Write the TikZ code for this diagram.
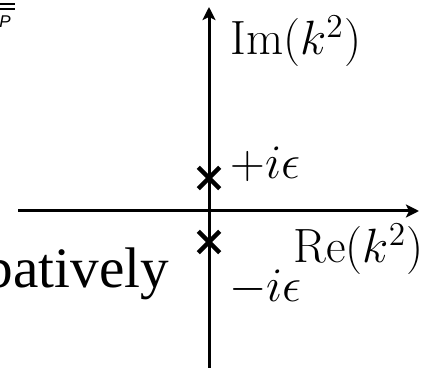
\documentclass[tikz,border=0pt]{standalone}
\usepackage{graphicx}
\usepackage{fontspec}
\newfontfamily\wordfont{Liberation Serif}
\newfontfamily\sansletter{Liberation Sans}
\usetikzlibrary{arrows.meta,shapes.misc}
\newcommand{\planelbl}[1]{\scalebox{1.16}{$#1$}}

\begin{document}
\begin{tikzpicture}[x=0.5pt,y=-0.5pt,line join=round,
    >={Stealth[length=6.5pt,width=6.5pt,inset=1.5pt]},
    axis/.style={line width=1.5pt},
    pole/.style={draw,cross out,line width=2.2pt,minimum size=8.5pt,inner sep=0pt},
    lbl/.style={inner sep=0pt,anchor=base west,font=\fontsize{20.74}{25}\selectfont}]
  \clip (0,0) rectangle (424,369);
  % axes of the complex k^2 plane
  \coordinate (xl) at (18,211);
  \coordinate (xr) at (419,211);
  \coordinate (yb) at (209,368);
  \coordinate (yt) at (209,7);
  \draw[axis,->] (xl) -- (xr);
  \draw[axis,->] (yb) -- (yt);
  % poles pushed just off the real axis
  \node[pole] (pup) at (209,178) {};
  \node[pole] (pdn) at (209,242) {};
  \node[lbl] (im) at (230,55) {\planelbl{\mathrm{Im}(k^2)}};
  \node[lbl] (re) at (293,263) {\planelbl{\mathrm{Re}(k^2)}};
  \node[lbl] (ieup) at (230,179) {\planelbl{+i\epsilon}};
  \node[lbl] (iedn) at (229,302) {\planelbl{-i\epsilon}};
  % cut-off text at the left edge
  \node[inner sep=0pt,anchor=base west,font=\wordfont\fontsize{28.6}{34}\selectfont]
     (word) at (-152,288) {perturbatively};
  \node[inner sep=0pt,anchor=base west,font=\sansletter\itshape\fontsize{8.5}{10}\selectfont]
     (pbar) at (-1,28) {P};
  \foreach \yy in {4.5,9.5}
     \draw[line width=1pt] (0,\yy) -- (15,\yy);
\end{tikzpicture}
\end{document}
